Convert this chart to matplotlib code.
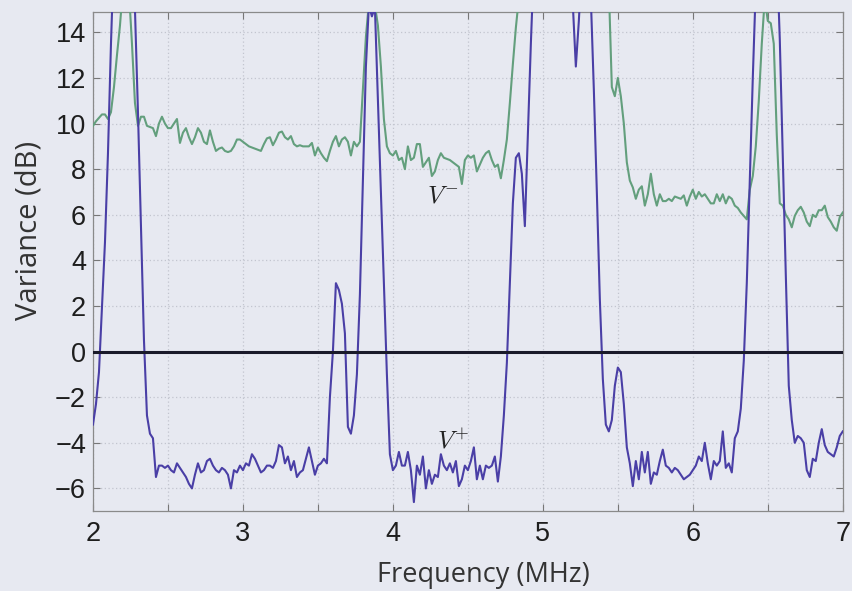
import numpy as np
import matplotlib
matplotlib.use("Agg")
import matplotlib.pyplot as plt

# ---- data (frequency step 0.02 MHz from 2.00 to 7.00) ----
f_start, f_step = 2.0, 0.02

v_plus = [
    # 2.00 - 2.42
    -3.2, -2.3, -0.9, 2.0, 4.8, 8.7, 13.5, 17.5, 20.0, 22.0, 22.0, 21.0, 19.5, 17.5, 15.0, 10.5, 5.5, 0.5, -2.8, -3.6, -3.8, -5.5,
    # 2.44 - 3.54
    -5.0, -5.0, -5.1, -5.0, -5.2, -5.3, -4.9,
    -5.1, -5.3, -5.5, -5.8, -6.0, -5.4, -4.9,
    -5.3, -5.2, -4.8, -4.7, -5.0, -5.2, -5.3,
    -5.1, -5.2, -5.4, -6.0, -5.2, -5.3, -5.0,
    -5.2, -4.9, -5.0, -4.5, -4.7, -5.0, -5.3,
    -5.2, -5.0, -5.0, -5.1, -4.8, -4.1, -4.2,
    -4.9, -4.6, -5.2, -4.8, -5.5, -5.3, -5.2,
    -4.7, -4.2, -4.8, -5.4, -5.0, -4.9, -4.7,
    # 3.56 - 4.00
    -4.9, -2.0, 0.0, 3.0, 2.7, 2.1, 0.8, -3.3, -3.6, -2.8, -1.0, 2.5, 7.5, 12.5, 15.2, 14.7, 15.1, 11.0, 7.0, 3.0, -1.0, -4.5, -5.2,
    # 4.02 - 4.70
    -5.0, -4.4, -5.0, -5.0, -4.4, -5.2, -6.6,
    -5.0, -5.4, -4.6, -6.0, -5.2, -5.8, -5.4,
    -5.5, -4.5, -5.0, -5.2, -4.9, -5.3, -4.8,
    -5.9, -5.6, -5.0, -5.2, -4.8, -4.2, -5.6,
    -5.0, -5.6, -5.0, -5.1, -5.0, -4.6, -5.7,
    # 4.72 - 4.96
    -4.6, -2.8, -0.5, 3.0, 6.5, 8.5, 8.7, 7.8, 5.5, 9.5, 13.5, 17.0, 19.5,
    # 4.98 - 5.18
    21.0, 21.5, 22.0, 22.0, 22.0, 21.5, 21.0,
    20.0, 19.5, 18.5, 17.0,
    # 5.20 - 5.60
    15.2, 12.5, 14.5, 17.0, 18.0, 17.5, 15.5, 11.5, 7.0, 2.3, -1.2, -3.2, -3.5, -3.0, -1.5, -0.7, -0.9, -2.3, -4.2, -4.9, -5.9,
    # 5.62 - 6.30
    -4.8, -5.6, -4.4, -5.3, -4.4, -5.8, -5.3,
    -5.4, -4.8, -4.3, -5.0, -5.1, -5.3, -5.1,
    -5.2, -5.4, -5.6, -5.5, -5.4, -5.2, -5.0,
    -4.6, -4.8, -4.0, -4.9, -5.6, -4.8, -5.0,
    -4.8, -3.5, -5.1, -4.9, -5.3, -3.8, -3.5,
    # 6.32 - 6.54
    -2.5, -0.4, 3.0, 7.5, 12.0, 16.0, 19.5,
    21.5, 22.5, 22.5, 21.5, 20.5,
    # 6.56 - 7.00
    17.5, 13.7, 8.5, 3.4, -1.5, -3.0, -4.0, -3.7, -3.8, -4.0, -5.2, -5.5, -4.7, -4.8, -4.0, -3.4, -4.1, -4.4, -4.5, -4.6, -4.2, -3.7, -3.5,
]

v_minus = [
    # 2.00 - 2.30
    9.9, 10.1, 10.25, 10.4, 10.4, 10.2, 10.5, 11.6, 13.0, 14.3, 16.0, 16.5, 15.8, 13.5, 10.9, 9.9,
    # 2.32 - 3.78
    10.3, 10.3, 9.9, 9.85, 9.8, 9.45, 10.0, 10.3, 10.0, 9.8,
    9.8, 10.0, 10.2, 9.15, 9.6, 9.8, 9.4, 9.1, 9.4, 9.8,
    9.6, 9.2, 9.1, 9.7, 9.2, 8.8, 8.9, 8.95, 8.8, 8.75,
    8.8, 9.0, 9.3, 9.3, 9.2, 9.1, 9.0, 8.95, 8.9, 8.85,
    8.8, 9.1, 9.35, 9.4, 9.05, 9.3, 9.6, 9.65, 9.4, 9.3,
    9.45, 9.1, 9.0, 9.05, 9.0, 9.0, 9.0, 9.15, 8.6, 8.95,
    8.7, 8.5, 8.35, 8.8, 9.2, 9.45, 9.0, 9.3, 9.4, 9.2,
    8.6, 9.2, 9.0, 9.2,
    # 3.80 - 3.96
    11.5, 13.8, 15.3, 14.8, 15.2, 14.3, 12.5, 10.2, 9.0,
    # 3.98 - 4.74
    8.7, 8.6, 8.8, 8.4, 8.5, 8.0, 9.0, 8.4, 8.5, 9.1,
    9.1, 8.1, 8.3, 8.5, 7.7, 7.9, 8.4, 8.7, 8.5, 8.45,
    8.4, 8.3, 8.2, 8.1, 7.35, 8.4, 8.6, 8.5, 8.6, 7.9,
    8.2, 8.5, 8.7, 8.8, 8.4, 8.1, 8.2, 7.6, 8.4,
    # 4.76 - 4.84
    9.3, 10.9, 12.6, 14.2, 15.5,
    # 4.86 - 5.42
    17.0, 18.0, 19.0, 19.5, 20.0, 20.0, 20.0, 20.0, 20.0, 20.0,
    20.0, 20.0, 20.0, 20.0, 20.0, 20.0, 20.0, 20.0, 20.0, 20.0,
    20.0, 20.0, 20.0, 20.0, 19.5, 19.0, 18.5, 18.0, 17.0,
    # 5.44 - 6.40
    16.0, 11.6, 11.2, 12.0, 11.2, 10.0, 8.3, 7.5, 7.2, 6.7,
    7.1, 7.25, 6.4, 6.9, 7.8, 6.9, 6.4, 6.9, 6.6, 6.6,
    6.7, 6.6, 6.8, 6.75, 6.7, 6.85, 6.4, 6.8, 7.1, 6.7,
    7.0, 6.8, 6.9, 6.7, 6.5, 6.5, 6.9, 6.6, 6.9, 6.5,
    6.8, 6.7, 6.4, 6.3, 6.1, 5.95, 5.8, 7.1, 7.7,
    # 6.42 - 7.00
    9.0, 11.0, 13.5, 15.5, 14.5, 14.4, 13.5, 9.5, 6.5, 6.4,
    6.0, 5.8, 5.45, 5.95, 6.2, 6.35, 6.1, 5.7, 5.5, 6.0,
    5.9, 6.2, 6.2, 6.4, 5.9, 5.7, 5.45, 5.3, 5.9, 6.1,
]

x_ticks = [2, 2.5, 3, 3.5, 4, 4.5, 5, 5.5, 6, 6.5, 7]
x_ticklabels = ["2", "", "3", "", "4", "", "5", "", "6", "", "7"]
y_ticks = [-6, -4, -2, 0, 2, 4, 6, 8, 10, 12, 14]

f_plus = f_start + f_step * np.arange(len(v_plus))
f_minus = f_start + f_step * np.arange(len(v_minus))

# ---- style ----
bg = "#e7e9f1"
blue = "#4a3fa6"
green = "#639f7d"
plt.rcParams["mathtext.fontset"] = "cm"

fig = plt.figure(figsize=(8.53, 5.91), dpi=100, facecolor=bg)
ax = fig.add_axes([0.109, 0.135, 0.879, 0.845])
ax.set_facecolor(bg)

ax.plot(f_minus, v_minus, color=green, lw=1.5, zorder=3)
ax.plot(f_plus, v_plus, color=blue, lw=1.5, zorder=4)
ax.axhline(0, color="#1a1a2a", lw=2.2, zorder=5)

ax.set_xlim(2, 7)
ax.set_ylim(-7, 14.9)
ax.set_xticks(x_ticks)
ax.set_xticklabels(x_ticklabels)
ax.set_yticks(y_ticks)
ax.set_yticklabels([("\u2212%d" % -t) if t < 0 else str(t) for t in y_ticks])

ax.grid(True, color="#c2c5cf", ls=(0, (1, 2)), lw=0.9)
ax.tick_params(direction="in", length=5, width=0.8, color="#777777",
               top=True, right=True, labelsize=19.5, labelcolor="#1e1e1e")
ax.tick_params(axis="x", pad=7)
ax.tick_params(axis="y", pad=5)
for lab in ax.get_xticklabels() + ax.get_yticklabels():
    lab.set_family("Liberation Sans")
for s in ax.spines.values():
    s.set_color("#8a8a8a")
    s.set_linewidth(0.9)

fig.text(483 / 853, 1 - 575 / 591, "Frequency (MHz)", fontsize=19.5, family="Open Sans",
         color="#333333", ha="center", va="center")
fig.text(29 / 853, 1 - 230 / 591, "Variance (dB)", fontsize=21, family="Open Sans",
         color="#333333", ha="center", va="center", rotation=90)

ax.text(4.33, 6.85, r"$V^{-}$", fontsize=18, ha="center", va="center", color="#222222", zorder=6)
ax.text(4.40, -3.95, r"$V^{+}$", fontsize=18, ha="center", va="center", color="#222222", zorder=6)

fig.savefig("out.png", dpi=100, facecolor=bg)
